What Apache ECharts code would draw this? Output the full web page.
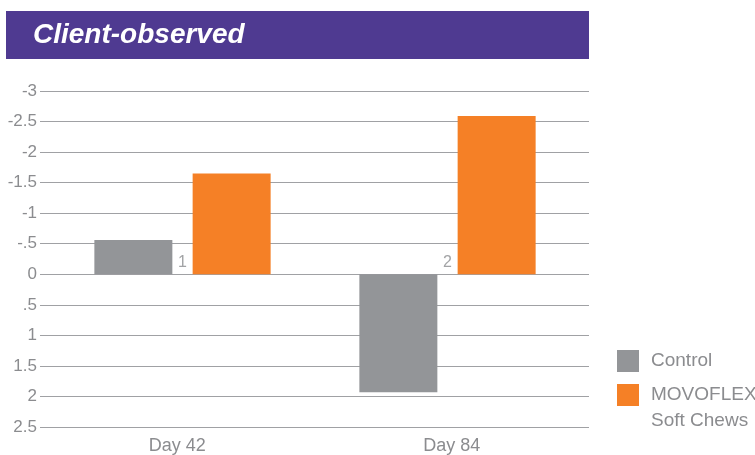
<!DOCTYPE html>
<html>
<head>
<meta charset="utf-8">
<script src="https://cdn.jsdelivr.net/npm/echarts@6/dist/echarts.min.js"></script>
<style>
  html, body { margin: 0; padding: 0; background: #fff; }
  #chart { width: 755px; height: 455px; }
</style>
</head>
<body>
<div id="chart"></div>
<script>
const categories = ["Day 42", "Day 84"];
const controlValues = [-0.56, 1.93];
const movoflexValues = [-1.65, -2.59];
const footnotes = ["1", "2"];
const yTickValues = [-3, -2.5, -2, -1.5, -1, -0.5, 0, 0.5, 1, 1.5, 2, 2.5];
const yTickLabels = ["-3", "-2.5", "-2", "-1.5", "-1", "-.5", "0", ".5", "1", "1.5", "2", "2.5"];

const textGray = "#8b8c8f";
const font = "Liberation Sans";

const chart = echarts.init(document.getElementById("chart"));

const yBase = {
  type: "value",
  inverse: true,
  min: -3,
  max: 2.5,
  interval: 0.5,
};

const option = {
  animation: false,
  graphic: [
    {
      type: "rect",
      shape: { x: 6, y: 11, width: 583, height: 48 },
      style: { fill: "#4f3a91" },
    },
    {
      type: "text",
      x: 33,
      y: 35,
      style: {
        text: "Client-observed",
        fill: "#fff",
        font: "italic bold 28px " + font,
        verticalAlign: "middle",
      },
    },
  ],
  legend: {
    orient: "vertical",
    left: 617,
    top: 348,
    height: 160,
    padding: 0,
    itemWidth: 22,
    itemHeight: 22,
    itemGap: -18,
    icon: "rect",
    textStyle: {
      color: textGray,
      fontSize: 19,
      fontFamily: font,
      lineHeight: 26,
      padding: [0, 0, 0, 7],
    },
    // leading blank line keeps "MOVOFLEX" level with its swatch
    formatter: (name) => (name.indexOf("\n") >= 0 ? "\n" + name : name),
    data: ["Control", "MOVOFLEX\nSoft Chews"],
  },
  grid: [
    { left: 40, right: 166, top: 91, bottom: 28, outerBoundsMode: "none" },
    { left: 50, right: 175, top: 91, bottom: 28, outerBoundsMode: "none" },
  ],
  xAxis: [
    {
      type: "category",
      gridIndex: 0,
      data: categories,
      axisLine: { show: false, onZero: false },
      axisTick: { show: false },
      axisLabel: { color: textGray, fontSize: 18, fontFamily: font, margin: 10 },
    },
    {
      type: "category",
      gridIndex: 1,
      data: categories,
      show: false,
    },
  ],
  yAxis: [
    Object.assign({}, yBase, {
      gridIndex: 0,
      axisLine: { show: false },
      axisTick: { show: false },
      splitLine: { show: true, lineStyle: { color: "#a0a1a4", width: 1.2 } },
      axisLabel: {
        color: textGray,
        fontSize: 17,
        fontFamily: font,
        margin: 3,
        formatter: (v) => {
          const i = yTickValues.findIndex((t) => Math.abs(t - v) < 1e-6);
          return i >= 0 ? yTickLabels[i] : "";
        },
      },
    }),
    Object.assign({}, yBase, { gridIndex: 1, show: false }),
  ],
  series: [
    {
      name: "Control",
      type: "bar",
      xAxisIndex: 1,
      yAxisIndex: 1,
      data: controlValues,
      barWidth: 78,
      barGap: "26%",
      itemStyle: { color: "#939598" },
    },
    {
      name: "MOVOFLEX\nSoft Chews",
      type: "bar",
      xAxisIndex: 1,
      yAxisIndex: 1,
      data: movoflexValues,
      barWidth: 78,
      barGap: "26%",
      itemStyle: { color: "#f58026" },
    },
    {
      type: "scatter",
      xAxisIndex: 1,
      yAxisIndex: 1,
      symbolSize: 0,
      silent: true,
      data: categories.map((c) => [c, 0]),
      label: {
        show: true,
        position: "inside",
        offset: [0, -12],
        color: textGray,
        fontSize: 16,
        fontFamily: font,
        formatter: (p) => footnotes[p.dataIndex],
      },
      z: 5,
    },
  ],
};

chart.setOption(option);
</script>
</body>
</html>
